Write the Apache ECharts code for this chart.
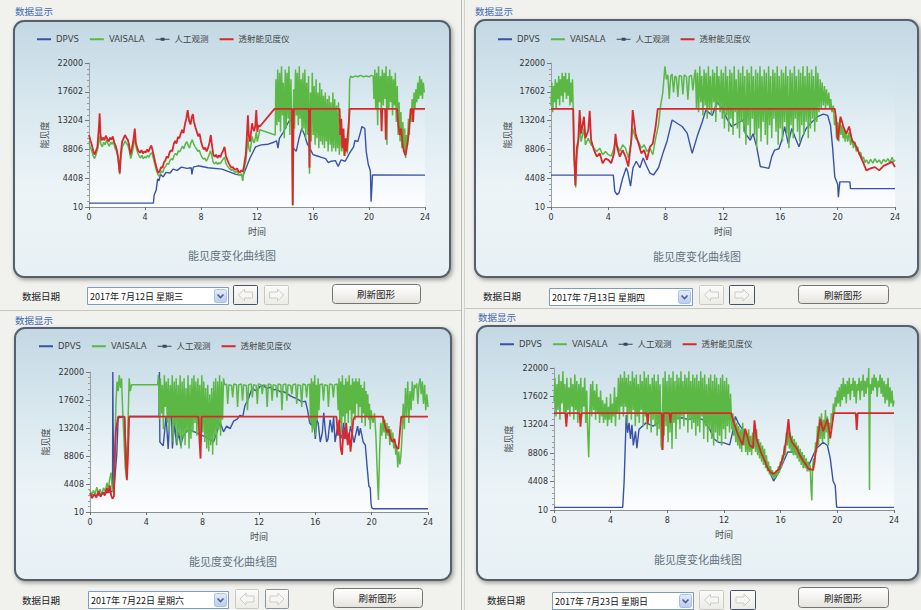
<!DOCTYPE html>
<html><head><meta charset="utf-8">
<script src="https://cdn.jsdelivr.net/npm/echarts@6.0.0/dist/echarts.min.js"></script>
<style>html,body{margin:0;padding:0;background:#f1f1ed;overflow:hidden;}#c{width:921px;height:610px;}</style>
</head><body><div id="c"></div><script>
// ---------------- DATA ----------------
const seriesNames = ['DPVS', 'VAISALA', '人工观测', '透射能见度仪'];
const dates = ['2017年 7月12日 星期三', '2017年 7月13日 星期四', '2017年 7月22日 星期六', '2017年 7月23日 星期日'];
const yTicks = [10, 4408, 8806, 13204, 17602, 22000];
const xTicks = [0, 4, 8, 12, 16, 20, 24];

// ---- 2017-07-12 ----
const dpvs_0712 = [[0,600],[4.6,600],[4.65,1800],[4.8,2600],[4.9,4300],[5.0,4000],[5.1,5000],[5.3,4600],[5.5,5300],[5.8,5200],[6.0,5800],[6.3,5600],[6.6,6100],[7.0,5900],[7.3,6000],[7.35,5000],[7.45,6100],[7.8,6300],[8.5,6000],[9.5,5800],[10.5,5000],[11,4800],[11.5,7500],[11.9,9200],[12.3,9500],[12.8,9600],[13.2,9900],[13.4,10100],[13.5,9000],[13.6,10500],[13.9,11500],[14.2,12800],[14.4,13500],[14.5,12500],[14.6,9000],[14.8,8500],[15.0,10500],[15.2,12000],[15.4,11000],[15.6,9600],[15.8,8900],[16.0,8000],[16.3,7800],[16.6,7600],[16.9,7400],[17.1,6800],[17.3,7000],[17.6,7100],[17.8,6200],[18.0,7200],[18.3,7000],[18.6,8200],[18.9,9200],[19.0,10200],[19.2,10000],[19.4,11500],[19.5,12300],[19.7,12000],[19.8,8500],[19.95,6500],[20.1,5500],[20.15,800],[20.25,4900],[24,4870]];
const vaisala_0712 = [[0,10000],[0.1,9000],[0.2,8600],[0.3,7800],[0.4,7400],[0.5,8000],[0.6,8700],[0.7,9800],[0.77,10800],[0.85,9600],[0.95,9200],[1.05,9900],[1.15,9500],[1.25,10200],[1.35,9700],[1.45,9300],[1.55,9900],[1.65,9600],[1.75,10000],[1.85,9000],[1.95,8600],[2.05,7800],[2.12,6500],[2.2,5000],[2.28,7500],[2.38,9200],[2.48,9600],[2.58,10100],[2.68,9700],[2.78,9400],[2.88,8600],[2.98,7400],[3.08,8200],[3.18,9300],[3.28,10500],[3.38,9000],[3.48,8300],[3.58,7800],[3.68,7500],[3.78,7900],[3.88,7400],[3.98,7700],[4.08,7500],[4.18,7900],[4.28,7600],[4.38,8100],[4.48,8300],[4.58,7600],[4.68,6700],[4.78,5900],[4.88,5200],[4.98,4700],[5.08,5000],[5.18,5500],[5.28,5300],[5.38,6000],[5.48,6200],[5.58,6700],[5.68,6500],[5.78,7100],[5.88,7400],[5.98,7200],[6.08,7900],[6.18,8200],[6.28,7900],[6.38,8600],[6.48,8400],[6.58,8900],[6.68,9300],[6.78,8900],[6.88,9600],[6.98,10000],[7.08,9500],[7.18,9000],[7.28,9800],[7.38,10300],[7.48,9600],[7.58,9200],[7.68,8900],[7.78,8500],[7.88,8700],[7.98,8000],[8.08,7600],[8.18,7300],[8.28,7500],[8.38,7000],[8.48,7400],[8.58,8000],[8.68,8600],[8.78,7800],[8.88,6800],[8.98,6600],[9.08,6900],[9.18,6500],[9.28,6800],[9.38,6600],[9.48,7000],[9.58,7300],[9.68,7600],[9.78,6700],[9.88,6300],[9.98,6000],[10.08,5800],[10.18,5600],[10.28,5700],[10.38,5400],[10.48,5300],[10.58,5500],[10.68,5000],[10.78,4800],[10.88,5100],[10.98,4000],[11.05,5200],[11.12,6300],[11.2,7000],[11.28,8800],[11.35,10500],[11.42,9000],[11.5,8400],[11.58,9600],[11.65,10800],[11.72,10200],[11.8,9800],[11.88,10500],[11.95,11500],[12.02,10000],[12.1,10700],[12.2,11800],
[13.3,11000],[13.35,19500],[13.42,12500],[13.48,21000],[13.55,13000],[13.62,20500],[13.68,11500],[13.75,21500],[13.82,14000],[13.88,19000],[13.95,10500],[14.02,21000],[14.08,12000],[14.15,20500],[14.22,13500],[14.28,21500],[14.35,11000],[14.42,19500],[14.48,13000],[14.55,200],[14.62,18000],[14.68,12000],[14.75,21000],[14.82,14000],[14.88,20500],[14.95,12500],[15.02,21500],[15.08,13500],[15.15,19500],[15.22,11500],[15.28,20500],[15.35,12000],[15.42,21000],[15.48,10500],[15.55,19000],[15.62,11000],[15.68,20000],[15.75,5100],[15.82,17500],[15.88,10000],[15.95,20500],[16.02,11000],[16.08,18500],[16.15,9500],[16.22,19500],[16.28,10500],[16.35,17500],[16.42,9000],[16.48,19000],[16.55,10000],[16.62,18000],[16.68,9500],[16.75,17000],[16.82,9000],[16.88,17500],[16.95,10000],[17.02,16500],[17.08,8500],[17.15,17000],[17.22,9500],[17.28,16000],[17.35,8500],[17.42,17500],[17.48,9000],[17.55,16500],[17.62,8500],[17.68,15500],[17.75,9000],[17.82,16000],[17.88,8000],[17.95,12000],[18.05,8500],[18.15,11000],[18.25,7800],[18.35,10500],[18.45,8200],[18.55,11000],[18.62,19500],[18.7,20000],[18.8,19800],[19.0,20000],[19.2,19900],[19.4,20100],[19.6,19900],[19.8,20000],[20.0,19900],[20.2,20100],[20.3,20000],[20.35,16500],[20.42,21000],[20.48,15000],[20.55,20500],[20.62,12500],[20.68,21500],[20.75,16000],[20.82,20000],[20.88,14500],[20.95,21000],[21.02,15500],[21.08,20500],[21.15,16500],[21.22,21500],[21.28,9500],[21.35,20000],[21.42,15000],[21.48,21000],[21.55,16000],[21.62,20000],[21.68,14000],[21.75,19500],[21.82,15500],[21.88,20500],[21.95,13000],[22.02,18500],[22.08,11000],[22.15,16000],[22.22,10000],[22.28,14500],[22.35,9000],[22.42,13000],[22.48,8500],[22.55,12000],[22.62,7500],[22.68,11000],[22.75,9500],[22.82,13500],[22.88,11000],[22.95,15000],[23.02,13000],[23.08,16500],[23.15,14000],[23.22,17500],[23.28,15000],[23.35,18000],[23.42,16000],[23.48,19000],[23.55,16500],[23.62,20000],[23.68,17000],[23.75,19500],[23.82,16500],[23.88,19000],[23.95,17500]];
const manual_0712 = [];
const trans_0712 = [[0,11000],[0.1,10200],[0.2,9500],[0.3,8600],[0.4,8000],[0.5,8600],[0.6,9200],[0.7,12000],[0.76,14300],[0.82,11000],[0.9,10200],[1.0,10600],[1.1,10200],[1.2,10900],[1.3,10400],[1.4,10000],[1.5,10600],[1.6,10300],[1.7,10800],[1.8,9900],[1.9,9400],[2.0,8600],[2.1,7200],[2.19,5200],[2.27,8200],[2.37,10000],[2.47,10500],[2.57,11000],[2.67,10600],[2.77,10300],[2.87,9400],[2.97,8000],[3.07,9000],[3.17,10200],[3.27,12000],[3.35,9800],[3.45,9000],[3.55,8500],[3.65,8300],[3.75,8700],[3.85,8200],[3.95,8500],[4.05,8300],[4.15,8800],[4.25,8400],[4.35,9000],[4.45,9400],[4.55,8600],[4.65,7600],[4.75,6600],[4.85,5800],[4.95,5200],[5.05,5500],[5.15,6100],[5.25,6000],[5.35,6800],[5.45,7100],[5.55,7700],[5.65,7500],[5.75,8300],[5.85,8700],[5.95,8500],[6.05,9600],[6.15,10100],[6.25,9700],[6.35,10700],[6.45,10500],[6.55,11200],[6.65,11800],[6.75,11300],[6.85,12600],[6.95,13500],[7.05,14800],[7.15,13200],[7.25,12600],[7.35,13800],[7.42,14200],[7.5,13000],[7.6,12200],[7.7,11500],[7.8,10800],[7.9,11200],[8.0,10000],[8.1,9300],[8.2,8800],[8.3,9100],[8.4,8500],[8.5,9000],[8.6,9800],[8.7,11000],[8.78,9500],[8.88,8000],[8.98,7700],[9.08,8000],[9.18,7500],[9.28,7900],[9.38,7600],[9.48,8200],[9.58,8600],[9.68,9200],[9.78,7800],[9.88,7200],[9.98,6700],[10.08,6300],[10.18,6000],[10.28,6100],[10.38,5800],[10.48,5700],[10.58,5900],[10.68,5400],[10.78,5300],[10.88,5600],[10.98,5400],[11.05,6000],[11.12,7000],[11.2,8000],[11.28,11000],[11.35,14000],[11.42,10800],[11.5,10000],[11.58,11500],[11.65,12800],[11.72,12000],[11.8,11600],[11.88,12500],[11.95,14800],[12.02,11500],[12.1,12500],[12.2,12300],[13.25,15000],[14.5,15000],[14.55,300],[14.62,15000],[15.7,15000],[15.75,6000],[15.8,15000],[17.9,15000],[17.95,11000],[18.02,13500],[18.1,9000],[18.18,12000],[18.25,7800],[18.32,10500],[18.4,8500],[18.48,11000],[18.56,13000],[18.62,15000],[20.85,15000],[20.9,11600],[20.95,15000],[21.15,15000],[21.2,10300],[21.25,15000],[22.0,15000],[22.1,12500],[22.2,11000],[22.3,12000],[22.4,9500],[22.5,8500],[22.6,7900],[22.7,9000],[22.8,10500],[22.9,13000],[23.0,15000],[23.1,15000],[23.15,13000],[23.2,15000],[24,15000]];

// ---- 2017-07-13 ----
const dpvs_0713 = [[0,4870],[4.35,4870],[4.45,2400],[4.6,1900],[4.75,2200],[5.0,4400],[5.25,6000],[5.35,5400],[5.55,3200],[5.72,6000],[5.95,7000],[6.2,6000],[6.43,7500],[6.66,6300],[6.9,5200],[7.15,4900],[7.5,6000],[7.85,8500],[8.1,10100],[8.45,13300],[8.8,12800],[9.15,12300],[9.5,11300],[9.85,8200],[10.2,10800],[10.55,13000],[10.8,14800],[11.25,14000],[11.6,16100],[11.95,15000],[12.27,13500],[12.6,12300],[13.0,12800],[13.4,13300],[13.55,11300],[13.9,10200],[14.1,11200],[14.35,9200],[14.6,6200],[14.8,6100],[15.2,5900],[15.4,7700],[15.6,8700],[15.9,8900],[16.1,10200],[16.3,12300],[16.55,9700],[16.8,12000],[17.0,10800],[17.3,9200],[17.5,10500],[17.8,12000],[18.2,13000],[18.6,13800],[19.0,14200],[19.3,14000],[19.5,12500],[19.65,9000],[19.8,4600],[20.0,3500],[20.05,1500],[20.15,3850],[20.85,3850],[20.9,2820],[24,2820]];
const vaisala_0713 = [[0,15500],[0.06,19000],[0.12,14500],[0.18,18500],[0.24,16000],[0.3,19500],[0.36,15000],[0.42,19000],[0.48,16500],[0.54,20000],[0.6,15500],[0.66,19500],[0.72,17000],[0.78,20500],[0.84,16000],[0.9,20000],[0.96,17500],[1.02,20500],[1.08,16500],[1.14,19500],[1.2,17000],[1.26,20500],[1.32,15500],[1.38,19000],[1.44,16000],[1.5,19500],[1.55,15000],[1.6,8000],[1.72,3000],[1.8,8000],[1.9,9500],[2.0,12500],[2.1,10000],[2.3,12000],[2.4,9500],[2.6,10500],[2.8,9500],[3.0,9000],[3.2,8500],[3.4,9000],[3.6,8000],[3.8,8500],[4.0,8000],[4.2,7800],[4.4,9000],[4.5,10500],[4.6,9500],[4.8,8500],[5.0,9500],[5.2,9000],[5.4,7500],[5.6,10000],[5.7,12000],[5.9,10500],[6.1,10000],[6.3,9000],[6.5,9500],[6.7,8500],[6.9,9000],[7.1,8000],[7.3,10500],[7.5,12500],[7.65,15500],[7.8,17500],[7.95,21500],[8.05,19500],[8.15,20200],[8.25,16500],[8.35,20000],[8.45,20300],[8.55,17500],[8.65,20000],[8.75,19800],[8.85,16800],[8.95,20100],[9.1,20000],[9.2,17200],[9.3,20200],[9.45,19900],[9.55,16400],[9.65,20000],[9.8,20100],[9.9,17800],[10.0,20000],[10.08,21000],[10.15,15000],[10.22,20500],[10.3,14500],[10.38,21500],[10.45,16000],[10.52,20000],[10.6,14000],[10.68,21000],[10.75,15500],[10.82,20500],[10.9,13500],[10.98,21500],[11.05,15000],[11.12,20000],[11.2,14000],[11.28,21000],[11.35,16000],[11.42,20500],[11.5,13000],[11.58,21500],[11.65,15500],[11.72,20000],[11.8,14500],[11.88,21000],[11.95,13500],[12.02,20500],[12.1,12000],[12.18,21500],[12.25,14000],[12.32,20000],[12.4,11500],[12.48,21000],[12.55,13500],[12.62,20500],[12.7,11000],[12.78,21500],[12.85,14500],[12.92,19500],[13.0,12000],[13.08,21000],[13.15,10500],[13.22,20500],[13.3,13000],[13.38,21500],[13.45,11500],[13.52,20000],[13.6,9500],[13.68,21000],[13.75,12500],[13.82,20500],[13.9,10500],[13.98,21500],[14.05,13500],[14.12,20000],[14.2,11000],[14.28,21000],[14.35,9000],[14.42,20500],[14.5,12000],[14.58,21500],[14.65,10000],[14.72,20000],[14.8,13000],[14.88,21000],[14.95,11000],[15.02,20500],[15.1,9500],[15.18,21500],[15.25,12500],[15.32,20000],[15.4,10500],[15.48,21000],[15.55,13500],[15.62,20500],[15.7,11500],[15.78,21500],[15.85,9500],[15.92,20000],[16.0,12000],[16.08,21000],[16.15,10000],[16.22,20500],[16.3,13000],[16.38,21500],[16.45,11000],[16.52,20000],[16.6,9000],[16.68,21000],[16.75,12500],[16.82,20500],[16.9,10500],[16.98,21500],[17.05,13500],[17.12,20000],[17.2,11500],[17.28,21000],[17.35,10000],[17.42,20500],[17.5,12500],[17.58,21500],[17.65,11000],[17.72,20000],[17.8,13000],[17.88,21500],[17.95,10500],[18.02,20500],[18.1,12000],[18.18,21000],[18.25,13500],[18.32,20000],[18.4,11500],[18.48,21500],[18.55,13000],[18.62,20500],[18.7,14500],[18.78,19500],[18.85,15000],[18.92,19000],[19.0,15500],[19.08,18500],[19.15,15000],[19.22,18000],[19.3,15500],[19.38,17500],[19.45,15000],[19.52,16500],[19.6,14500],[19.7,15500],[19.78,12500],[19.85,14000],[19.92,10500],[20.0,13000],[20.08,10000],[20.15,13500],[20.22,11000],[20.3,12500],[20.38,10500],[20.45,12000],[20.52,10000],[20.6,11500],[20.7,10000],[20.8,11500],[20.9,9500],[21.0,10500],[21.1,9000],[21.2,10000],[21.3,8500],[21.4,9200],[21.5,8000],[21.6,8400],[21.7,7500],[21.8,7600],[21.9,6800],[22.0,7200],[22.15,6600],[22.3,7300],[22.45,6700],[22.6,7400],[22.75,6800],[22.9,7200],[23.05,6600],[23.2,7300],[23.35,6900],[23.5,7400],[23.65,6800],[23.8,7600],[23.9,6900],[24,7200]];
const manual_0713 = [];
const trans_0713 = [[0,15000],[1.55,15000],[1.6,9000],[1.7,3300],[1.8,9000],[1.9,10200],[2.0,14800],[2.1,11200],[2.3,13800],[2.4,10500],[2.6,11700],[2.7,14700],[2.8,10200],[3.0,8700],[3.2,7700],[3.4,8200],[3.6,6700],[3.8,7400],[4.0,7200],[4.2,6700],[4.4,8200],[4.5,11200],[4.6,9200],[4.8,7700],[5.0,8700],[5.2,7700],[5.4,6200],[5.6,10200],[5.7,14800],[5.9,11200],[6.1,9700],[6.3,8200],[6.5,8700],[6.7,7200],[6.9,9200],[7.1,9700],[7.3,12300],[7.45,15000],[19.8,15000],[19.9,13300],[20.0,10200],[20.2,13800],[20.4,12300],[20.6,11200],[20.8,12300],[21.0,10200],[21.2,9700],[21.4,8700],[21.6,7700],[21.8,6700],[22.0,5600],[22.3,5900],[22.6,6100],[22.9,5600],[23.2,6300],[23.5,6600],[23.8,6900],[24,6100]];

// ---- 2017-07-22 ----
const dpvs_0722 = [[0,2800],[0.5,2600],[1.0,3000],[1.5,3200],[1.6,3300],[1.62,22000],[1.64,14200],[1.7,3500],[1.9,9000],[2.0,14800],[2.45,15000],[2.6,6000],[2.75,15000],[4.9,15000],[4.93,22000],[4.96,11000],[5.2,10400],[5.4,15100],[5.55,9900],[5.75,18300],[5.85,10000],[6.0,14000],[6.15,10500],[6.3,12500],[6.45,10400],[6.6,12000],[7.0,13000],[7.5,12500],[8.0,12000],[8.5,11500],[8.77,11000],[9.0,12500],[9.24,14100],[9.48,12600],[9.7,13500],[9.95,13100],[10.2,14300],[10.45,14600],[10.66,15200],[10.85,15000],[11.0,16700],[11.25,17800],[11.5,19400],[11.85,19000],[12.05,19700],[12.3,19900],[12.55,19400],[12.8,19600],[13.05,19200],[13.27,19300],[13.5,18900],[13.74,18900],[14.0,18600],[14.2,18300],[14.45,18000],[14.7,17800],[14.9,17500],[15.05,17300],[15.3,17400],[15.45,16000],[15.6,14000],[15.75,13600],[15.85,15500],[16.0,11500],[16.1,14500],[16.2,14000],[16.35,11000],[16.5,12500],[16.6,15600],[16.7,13000],[16.8,11000],[16.9,11500],[17.05,14500],[17.2,12500],[17.3,15000],[17.4,11000],[17.55,13000],[17.65,13500],[17.8,11500],[17.9,12200],[18.0,14000],[18.1,12500],[18.25,11500],[18.35,11000],[18.5,13500],[18.6,12500],[18.75,10900],[18.85,12000],[19.0,13500],[19.1,12000],[19.2,13200],[19.4,11000],[19.55,10500],[19.67,7300],[19.8,4100],[19.9,3800],[19.95,1500],[20.0,690],[20.1,520],[24,520]];
const vaisala_0722 = [[0,3500],[0.12,2600],[0.24,3400],[0.36,2800],[0.48,3900],[0.6,3000],[0.72,3600],[0.84,2700],[0.96,3800],[1.08,3200],[1.2,4600],[1.3,3600],[1.4,5200],[1.5,6200],[1.58,3500],[1.68,3000],[1.76,9000],[1.84,17000],[1.92,20500],[2.0,19000],[2.08,21500],[2.16,19500],[2.24,21000],[2.32,16000],[2.4,12000],[2.5,7000],[2.6,5200],[2.7,14000],[2.78,21000],[2.86,19000],[2.95,20000],[4.8,20000],[4.86,21500],[4.93,14500],[5.0,21000],[5.07,15500],[5.14,20000],[5.21,13000],[5.28,21500],[5.35,16500],[5.42,20500],[5.49,14000],[5.56,21000],[5.63,12500],[5.7,20000],[5.77,15000],[5.84,21500],[5.91,11000],[5.98,20500],[6.05,13500],[6.12,21000],[6.19,10500],[6.26,20000],[6.33,12000],[6.4,21500],[6.47,10000],[6.54,20500],[6.61,11500],[6.68,21000],[6.75,10500],[6.82,19500],[6.89,12500],[6.96,21500],[7.03,10000],[7.1,20000],[7.17,11500],[7.24,21000],[7.31,12500],[7.38,21500],[7.45,14000],[7.52,20500],[7.59,12000],[7.66,21000],[7.73,13500],[7.8,20000],[7.87,11000],[7.94,21500],[8.01,12500],[8.08,20500],[8.15,11000],[8.22,19500],[8.29,10000],[8.36,20000],[8.43,9500],[8.5,18500],[8.57,10500],[8.64,19500],[8.71,9000],[8.78,20500],[8.85,11500],[8.92,21000],[8.99,10500],[9.06,20500],[9.13,13000],[9.2,21500],[9.27,12000],[9.34,20500],[9.41,14500],[9.48,21000],[9.55,20000],[9.7,20100],[9.78,17000],[9.86,20000],[10.05,19900],[10.13,18000],[10.21,20100],[10.4,20000],[10.48,16500],[10.56,20000],[10.75,20100],[10.83,17500],[10.91,20000],[11.1,19900],[11.18,16000],[11.26,20000],[11.45,20100],[11.53,18000],[11.61,20000],[11.8,19900],[11.88,17000],[11.96,20100],[12.15,20000],[12.23,18500],[12.31,20000],[12.5,19900],[12.58,16500],[12.66,20100],[12.85,20000],[12.93,17500],[13.01,20000],[13.2,19900],[13.28,18000],[13.36,20100],[13.55,20000],[13.63,16000],[13.71,20000],[13.9,20100],[13.98,17500],[14.06,20000],[14.25,19900],[14.33,18500],[14.41,20000],[14.6,20100],[14.68,17000],[14.76,20000],[14.95,19900],[15.03,16500],[15.11,20100],[15.3,20000],[15.38,18000],[15.46,20000],[15.6,20100],[15.66,14000],[15.72,21000],[15.78,12500],[15.84,20500],[15.9,13000],[15.96,21500],[16.02,12000],[16.08,20000],[16.14,14500],[16.2,21000],[16.26,16000],[16.32,20000],[16.5,20100],[16.58,17500],[16.66,20000],[16.85,19900],[16.93,16500],[17.01,20100],[17.2,20000],[17.28,18000],[17.36,20000],[17.55,20100],[17.62,16000],[17.68,21000],[17.74,14000],[17.8,20500],[17.86,12500],[17.92,21500],[17.98,15000],[18.04,20000],[18.1,13500],[18.16,21000],[18.22,15500],[18.28,20500],[18.34,14000],[18.4,21500],[18.46,16000],[18.52,20000],[18.58,13000],[18.64,21000],[18.7,15500],[18.76,20500],[18.82,14500],[18.88,21000],[18.94,17000],[19.0,20500],[19.06,15000],[19.12,21000],[19.18,16500],[19.24,20000],[19.3,14000],[19.36,19500],[19.42,15500],[19.48,20500],[19.54,13500],[19.6,19000],[19.66,15000],[19.72,18500],[19.78,14500],[19.84,17000],[19.9,13000],[19.96,16000],[20.02,15000],[20.1,14000],[20.2,15500],[20.3,12000],[20.4,6000],[20.48,1900],[20.56,9000],[20.64,14000],[20.72,12000],[20.8,15000],[20.87,12500],[20.94,14500],[21.01,11500],[21.08,14000],[21.15,12000],[21.22,13500],[21.29,10500],[21.36,13000],[21.43,11000],[21.5,12500],[21.57,10000],[21.64,11500],[21.71,9000],[21.78,10500],[21.85,7000],[21.92,9500],[22.0,7500],[22.08,9000],[22.16,12000],[22.24,17000],[22.32,13000],[22.4,19500],[22.48,15000],[22.56,20500],[22.64,14000],[22.72,19000],[22.8,16000],[22.88,20500],[22.96,17500],[23.04,20000],[23.12,19500],[23.2,20200],[23.28,17000],[23.36,20000],[23.44,21000],[23.52,18500],[23.6,20500],[23.68,17000],[23.76,20000],[23.84,16000],[23.92,18500],[24,16500]];
const manual_0722 = [];
const trans_0722 = [[0,3000],[0.15,2200],[0.3,2800],[0.45,2300],[0.6,3300],[0.75,2400],[0.9,3100],[1.05,2600],[1.2,3800],[1.3,3000],[1.4,4200],[1.5,2600],[1.6,2100],[1.7,2500],[1.78,10000],[1.85,13000],[2.0,15000],[2.45,15000],[2.55,8000],[2.62,5000],[2.7,9000],[2.78,15000],[7.7,15000],[7.78,11000],[7.85,8400],[7.92,15000],[17.5,15000],[17.6,12000],[17.7,14500],[17.8,10000],[17.9,9000],[18.0,13000],[18.1,11500],[18.2,14000],[18.3,10500],[18.4,12500],[18.5,9500],[18.6,12000],[18.7,14500],[18.8,15000],[20.8,15000],[20.95,13500],[21.1,12500],[21.2,13000],[21.35,11500],[21.5,11000],[21.6,11500],[21.75,10200],[21.9,9900],[22.0,12500],[22.1,15000],[24,15000]];

// ---- 2017-07-23 ----
const dpvs_0723 = [[0,420],[4.85,420],[4.95,4400],[5.1,14700],[5.2,12000],[5.3,13500],[5.4,11000],[5.5,13200],[5.6,10000],[5.75,12200],[5.85,9600],[6.0,12500],[6.5,13500],[7.0,13000],[7.5,13800],[8.0,14000],[8.5,14200],[9.0,14300],[9.5,14000],[10.0,14400],[10.5,14000],[11.0,12500],[11.3,11000],[11.6,10500],[12.0,10400],[12.4,10100],[12.6,12000],[12.8,14500],[13.0,13500],[13.3,12500],[13.6,11500],[14.0,10500],[14.5,9000],[15.0,7500],[15.3,5500],[15.5,4500],[15.7,5200],[16.0,6500],[16.5,9000],[17.0,9000],[17.5,8000],[18.0,7000],[18.5,9500],[19.0,10500],[19.3,10000],[19.5,8000],[19.7,4500],[19.85,3800],[19.95,500],[20.0,420],[24,420]];
const vaisala_0723 = [[0,16800],[0.07,20500],[0.14,14500],[0.21,19500],[0.28,15500],[0.35,21000],[0.42,14000],[0.49,20000],[0.56,16500],[0.63,21500],[0.7,15000],[0.77,19500],[0.84,13500],[0.91,20500],[0.98,15500],[1.05,19000],[1.12,14500],[1.19,20500],[1.26,16000],[1.33,19500],[1.4,14000],[1.47,21000],[1.54,15500],[1.61,20000],[1.68,13500],[1.75,19500],[1.82,15000],[1.89,20500],[1.96,14500],[2.03,19000],[2.1,16000],[2.17,20500],[2.24,13500],[2.31,18500],[2.38,12000],[2.45,8200],[2.52,15000],[2.59,19500],[2.66,14500],[2.73,20000],[2.8,15500],[2.87,18500],[2.94,14000],[3.01,19500],[3.08,15000],[3.15,17500],[3.22,13500],[3.29,18500],[3.36,14500],[3.43,17000],[3.5,13500],[3.57,16500],[3.64,14000],[3.71,17500],[3.78,13000],[3.85,16000],[3.92,14000],[3.99,18000],[4.06,13500],[4.13,16500],[4.2,14500],[4.27,19000],[4.34,13000],[4.41,17500],[4.48,15000],[4.55,20500],[4.62,14000],[4.69,21000],[4.76,16000],[4.83,20500],[4.9,14500],[4.97,21500],[5.04,16000],[5.11,20500],[5.18,13500],[5.25,21000],[5.32,15000],[5.39,20000],[5.46,14000],[5.53,21500],[5.6,15500],[5.67,20500],[5.74,13000],[5.81,21000],[5.88,14500],[5.95,19500],[6.02,13500],[6.09,21000],[6.16,15500],[6.23,20000],[6.3,13000],[6.37,21500],[6.44,14500],[6.51,20500],[6.58,12500],[6.65,21000],[6.72,15000],[6.79,19500],[6.86,12000],[6.93,20500],[7.0,14000],[7.07,21000],[7.14,13000],[7.21,20000],[7.28,11500],[7.35,21000],[7.42,12500],[7.49,19500],[7.56,10000],[7.63,9300],[7.7,20500],[7.77,11500],[7.84,21500],[7.91,13000],[7.98,20000],[8.05,10500],[8.12,21000],[8.19,12000],[8.26,20500],[8.33,9500],[8.4,21500],[8.47,13500],[8.54,20000],[8.61,11000],[8.68,21000],[8.75,14000],[8.82,20500],[8.89,12500],[8.96,21500],[9.03,14500],[9.1,20000],[9.17,13000],[9.24,21000],[9.31,15000],[9.38,20500],[9.45,12000],[9.52,21500],[9.59,14000],[9.66,20000],[9.73,12500],[9.8,21000],[9.87,13500],[9.94,20500],[10.01,11500],[10.08,21000],[10.15,13000],[10.22,20000],[10.29,12000],[10.36,21500],[10.43,14500],[10.5,20500],[10.57,11000],[10.64,21000],[10.71,13000],[10.78,19500],[10.85,10500],[10.92,20500],[10.99,12500],[11.06,21000],[11.13,11000],[11.2,20000],[11.27,10000],[11.34,21000],[11.41,12000],[11.48,20500],[11.55,10500],[11.62,19500],[11.69,11500],[11.76,20500],[11.83,10000],[11.9,21000],[11.97,12500],[12.04,20000],[12.11,11000],[12.18,20500],[12.25,13000],[12.32,19500],[12.39,12000],[12.46,18000],[12.55,12500],[12.62,15000],[12.69,11500],[12.76,14000],[12.83,10500],[12.9,13500],[12.97,10000],[13.04,13000],[13.11,9500],[13.18,12500],[13.25,9000],[13.32,13500],[13.39,10000],[13.46,12500],[13.53,9000],[13.6,12000],[13.67,8500],[13.74,12500],[13.81,9000],[13.88,11500],[13.95,8500],[14.02,12000],[14.09,9500],[14.16,13000],[14.23,9000],[14.3,12500],[14.37,8500],[14.44,11000],[14.51,8000],[14.58,10500],[14.65,7500],[14.72,10000],[14.79,7000],[14.86,9500],[14.93,6500],[15.0,8500],[15.07,6000],[15.14,7500],[15.21,5500],[15.28,6800],[15.35,5200],[15.42,6200],[15.49,4800],[15.56,5800],[15.63,5000],[15.7,6200],[15.77,5300],[15.84,6800],[15.91,5800],[15.98,7500],[16.05,6500],[16.12,8500],[16.19,7500],[16.26,10000],[16.33,8500],[16.4,12000],[16.47,10000],[16.54,13500],[16.61,9500],[16.68,12000],[16.75,9000],[16.82,11500],[16.89,8500],[16.96,11000],[17.03,8500],[17.1,10500],[17.17,8000],[17.24,10000],[17.31,7500],[17.38,9500],[17.45,7000],[17.52,9000],[17.59,6500],[17.66,8500],[17.73,6500],[17.8,8000],[17.87,6000],[17.94,7500],[18.01,6000],[18.08,7000],[18.15,3000],[18.2,1500],[18.25,6500],[18.32,8000],[18.39,7000],[18.46,10500],[18.53,9000],[18.6,13000],[18.67,10000],[18.74,14500],[18.81,11000],[18.88,15000],[18.95,10500],[19.02,14000],[19.09,11000],[19.16,15500],[19.23,12000],[19.3,14500],[19.37,10000],[19.44,13500],[19.51,12500],[19.58,15000],[19.65,14000],[19.72,16500],[19.79,15000],[19.86,17500],[19.93,16000],[20.0,18500],[20.07,16500],[20.14,19000],[20.21,16000],[20.28,19500],[20.35,17000],[20.42,20500],[20.49,17500],[20.56,19500],[20.63,16500],[20.7,20000],[20.77,18000],[20.84,20500],[20.91,17000],[20.98,19500],[21.05,18500],[21.12,20500],[21.19,17500],[21.26,20000],[21.33,16500],[21.4,19500],[21.47,18500],[21.54,20500],[21.61,17000],[21.68,20000],[21.75,18500],[21.82,21000],[21.89,17500],[21.96,20000],[22.03,18000],[22.1,20500],[22.17,19000],[22.22,22000],[22.27,3100],[22.32,19500],[22.39,18000],[22.46,20500],[22.53,18500],[22.6,21000],[22.67,19000],[22.74,20500],[22.81,17500],[22.88,20000],[22.95,19000],[23.02,21000],[23.09,18000],[23.16,20500],[23.23,17500],[23.3,20000],[23.37,16500],[23.44,19500],[23.51,17000],[23.58,20500],[23.65,16000],[23.72,19000],[23.79,16500],[23.86,18500],[23.93,16000],[24,17000]];
const manual_0723 = [];
const trans_0723 = [[0,15000],[0.8,15000],[0.87,12900],[0.94,15000],[1.8,15000],[1.87,12900],[1.94,15000],[6.55,15000],[6.62,13300],[6.69,15000],[7.6,15000],[7.67,9300],[7.74,15000],[8.15,15000],[8.22,13500],[8.29,15000],[12.5,15000],[12.7,13500],[12.9,12200],[13.1,11100],[13.3,10100],[13.5,12600],[13.8,10100],[14.05,9600],[14.15,13900],[14.3,11000],[14.6,9000],[14.8,8000],[15.1,6400],[15.3,5800],[15.5,5600],[15.7,6000],[15.9,6400],[16.2,8500],[16.4,11000],[16.55,14100],[16.65,11500],[16.8,10500],[17.15,9500],[17.35,8500],[17.6,7600],[17.8,7000],[17.96,6400],[18.3,6200],[18.55,10100],[18.8,14100],[19.0,12200],[19.3,14100],[19.5,11100],[19.75,15000],[21.3,15000],[21.37,12400],[21.44,15000],[24,15000]];

// ---------------- LAYOUT / STYLE ----------------
const panelSeries = [
  [dpvs_0712, vaisala_0712, manual_0712, trans_0712],
  [dpvs_0713, vaisala_0713, manual_0713, trans_0713],
  [dpvs_0722, vaisala_0722, manual_0722, trans_0722],
  [dpvs_0723, vaisala_0723, manual_0723, trans_0723]
];
const colors = ['#3a52a6', '#5cb845', '#394a5c', '#d8282b'];
const widths = [1.4, 1.5, 1, 1.8];
const FONT = '"DejaVu Sans", "Noto Sans CJK SC", sans-serif';
const CJK = '"Noto Sans CJK SC", "DejaVu Sans", sans-serif';

const panels = [
  {cap:[15,11], box:[14,21,436,256], grid:[89,63,336,144], leg:[37,41], yGap:40, title:[232,256], date:[22,296], combo:[87,287,141,17], b1:[233,285,24,19], b2:[264,285,24,19], focus:[1,0], refresh:[332,284,88,19]},
  {cap:[475,11], box:[475,20,443,257], grid:[551,63,344,144], leg:[498,41], yGap:39, title:[697,257], date:[483,296], combo:[549,288,143,17], b1:[699,285,24,19], b2:[729,285,25,19], focus:[0,1], refresh:[798,285,90,18]},
  {cap:[15,320], box:[15,328,436,252], grid:[90,372,338,140], leg:[39,348], yGap:40, title:[233,562], date:[22,600], combo:[88,591,140,17], b1:[235,589,23,19], b2:[265,589,23,19], focus:[0,0.5], refresh:[333,588,89,19]},
  {cap:[478,317], box:[477,326,441,254], grid:[554,368,340,142], leg:[500,346], yGap:41, title:[698,560], date:[487,600], combo:[552,592,141,17], b1:[699,590,24,19], b2:[730,590,25,19], focus:[0,1], refresh:[798,587,90,20]}
];

const minorTicks = [];
for (let k = 0; k < yTicks.length - 1; k++) {
  for (let j = 1; j < 5; j++) minorTicks.push(yTicks[k] + (yTicks[k+1] - yTicks[k]) * j / 5);
}

function lg(stops) {
  return {type:'linear', x:0, y:0, x2:0, y2:1, colorStops: stops.map((c, i) => ({offset: i / (stops.length - 1), color: c}))};
}
function T(text, x, y, size, color, align, z) {
  return {type:'text', z: z || -1, silent:true, style:{text, x, y, fill:color, font: size + 'px ' + CJK, align: align || 'left', verticalAlign:'middle', textAlign: align || 'left', textVerticalAlign:'middle'}};
}
function R(x, y, w, h, style, r, z) {
  return {type:'rect', z: z || -3, silent:true, shape:{x, y, width:w, height:h, r: r || 0}, style};
}

const G = [];
G.push({type:'line', z:-4, silent:true, shape:{x1:461.5, y1:0, x2:461.5, y2:610}, style:{stroke:'#bcbcb6', lineWidth:1}});
G.push({type:'line', z:-4, silent:true, shape:{x1:464.5, y1:0, x2:464.5, y2:610}, style:{stroke:'#d2d2cc', lineWidth:1}});
G.push({type:'line', z:-4, silent:true, shape:{x1:0, y1:310.5, x2:461, y2:310.5}, style:{stroke:'#c6c6c0', lineWidth:1}});
G.push({type:'line', z:-4, silent:true, shape:{x1:465, y1:308.5, x2:921, y2:308.5}, style:{stroke:'#c6c6c0', lineWidth:1}});

function navButton(b, dir, focus) {
  const [x, y, w, h] = b;
  G.push(R(x + 0.5, y + 0.5, w, h, {fill: lg(['#fbfbf9', '#ecebe5']), stroke: focus >= 1 ? '#44526a' : (focus > 0 ? '#8a929e' : '#c8c8c4'), lineWidth:1}, 1));
  const cx = x + w / 2 + 0.5, cy = y + h / 2 + 0.5, s = dir;
  const pts = [[cx - 7*s, cy], [cx - 1*s, cy - 6], [cx - 1*s, cy - 3], [cx + 7*s, cy - 3], [cx + 7*s, cy + 3], [cx - 1*s, cy + 3], [cx - 1*s, cy + 6]];
  G.push({type:'polygon', z:-2, silent:true, shape:{points:pts}, style:{fill:'#f6f6f4', stroke:'#cdcdc8', lineWidth:1}});
}

panels.forEach((p, i) => {
  G.push(T('数据显示', p.cap[0], p.cap[1], 9.5, '#3d68b2'));
  G.push(R(p.box[0], p.box[1], p.box[2], p.box[3], {fill: lg(['#c3d8e4', '#d9e8ef', '#ecf4f7', '#e7f0f4']), stroke:'#56616d', lineWidth:2, shadowBlur:4, shadowOffsetX:1.5, shadowOffsetY:2, shadowColor:'rgba(0,0,0,0.35)'}, 10, -5));
  G.push(T('数据日期', p.date[0], p.date[1], 9.5, '#222'));
  const [cx, cy, cw, ch] = p.combo;
  G.push(R(cx + 0.5, cy + 0.5, cw, ch, {fill:'#ffffff', stroke:'#7f9db9', lineWidth:1}));
  G.push(T(dates[i], cx + 3, cy + ch / 2 + 0.5, 9, '#111'));
  const bx = cx + cw - 14;
  G.push(R(bx + 0.5, cy + 2.5, 12, ch - 4, {fill: lg(['#e4ecfc', '#b7cbf2']), stroke:'#a9bfe8', lineWidth:1}, 2, -2));
  G.push({type:'polyline', z:-1, silent:true, shape:{points:[[bx + 3.5, cy + ch / 2 - 1], [bx + 6.5, cy + ch / 2 + 2], [bx + 9.5, cy + ch / 2 - 1]]}, style:{stroke:'#4d6185', lineWidth:1.6, fill:null}});
  navButton(p.b1, 1, p.focus[0]);
  navButton(p.b2, -1, p.focus[1]);
  const [rx, ry, rw, rh] = p.refresh;
  G.push(R(rx + 0.5, ry + 0.5, rw, rh, {fill: lg(['#ffffff', '#f3f2ee', '#e4e3dc']), stroke:'#747474', lineWidth:1}, 3));
  G.push(T('刷新图形', rx + rw / 2, ry + rh / 2 + 0.5, 9.5, '#222', 'center'));
});

// ---------------- OPTION ----------------
const ICON_LINE = 'path://M0,0H14V2H0Z';
const ICON_MARK = 'path://M0,1H5V0H9V1H14V2H9V3H5V2H0Z';

const option = {animation:false, grid:[], xAxis:[], yAxis:[], series:[], legend:[], title:[], graphic:{elements:G}};
panels.forEach((p, i) => {
  option.grid.push({left:p.grid[0], top:p.grid[1], width:p.grid[2], height:p.grid[3], show:true, borderWidth:0,
    backgroundColor: new echarts.graphic.LinearGradient(0, 0, 0, 1, [{offset:0, color:'#cde0ea'}, {offset:0.55, color:'#e9f2f6'}, {offset:1, color:'#fcfdfe'}])});
  option.xAxis.push({type:'value', gridIndex:i, min:xTicks[0], max:xTicks[xTicks.length - 1], interval:xTicks[1] - xTicks[0],
    name:'时间', nameLocation:'middle', nameGap:20, nameTextStyle:{fontSize:9, color:'#444', fontFamily:CJK},
    axisLine:{show:true, onZero:false, lineStyle:{color:'#8c9096', width:1}},
    axisTick:{show:true, length:3, lineStyle:{color:'#6f6f6f'}},
    axisLabel:{fontSize:8, color:'#333', margin:6, fontFamily:FONT, formatter: v => String(v)}, splitLine:{show:false}});
  option.yAxis.push({type:'value', gridIndex:i, position:'left', min:yTicks[0], max:yTicks[yTicks.length - 1],
    name:'能见度', nameLocation:'middle', nameGap:p.yGap, nameRotate:90, nameTextStyle:{fontSize:9, color:'#444', fontFamily:CJK},
    axisLine:{show:true, onZero:false, lineStyle:{color:'#9aa0a6', width:1}},
    axisTick:{show:true, length:4, customValues:yTicks, lineStyle:{color:'#777'}},
    axisLabel:{customValues:yTicks, fontSize:8, color:'#333', margin:6, fontFamily:FONT, formatter: v => String(v)}, splitLine:{show:false}});
  option.yAxis.push({type:'value', gridIndex:i, position:'left', min:yTicks[0], max:yTicks[yTicks.length - 1],
    axisLine:{show:false}, axisLabel:{show:false}, splitLine:{show:false},
    axisTick:{show:true, length:2, customValues:minorTicks, lineStyle:{color:'#9a9a9a'}}});
  panelSeries[i].forEach((d, k) => {
    option.series.push({name:seriesNames[k], type:'line', xAxisIndex:i, yAxisIndex:2 * i, data:d,
      symbol: k === 2 ? 'circle' : 'none', symbolSize:3, showSymbol: k === 2, silent:true, z:2 + k,
      lineStyle:{width:widths[k], color:colors[k]}, itemStyle:{color:colors[k]}, emphasis:{disabled:true}});
  });
  option.legend.push({left:p.leg[0], top:p.leg[1] - 6, padding:0, itemWidth:14, itemHeight:5, itemGap:11, selectedMode:false,
    textStyle:{fontSize:8.5, color:'#444', fontFamily:FONT},
    data: seriesNames.map((n, k) => ({name:n, icon: k === 2 ? ICON_MARK : ICON_LINE}))});
  option.title.push({text:'能见度变化曲线图', left:p.title[0] - 44, top:p.title[1] - 7, padding:0,
    textStyle:{fontSize:11, fontWeight:'normal', color:'#63727f', fontFamily:CJK}});
});

const chart = echarts.init(document.getElementById('c'), null, {renderer:'svg', width:921, height:610});
chart.setOption(option);
</script></body></html>
